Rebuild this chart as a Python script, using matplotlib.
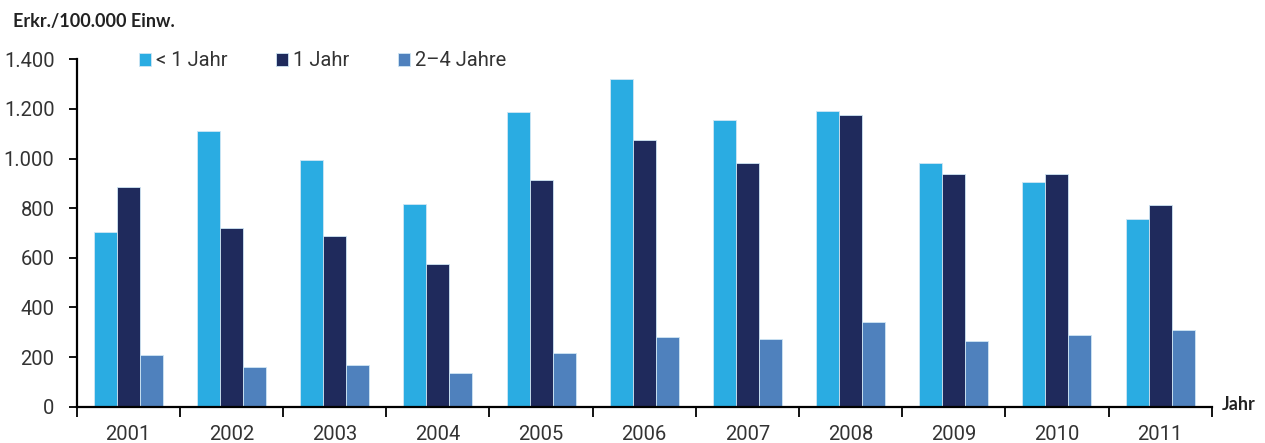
import numpy as np
import matplotlib
matplotlib.use("Agg")
import matplotlib.pyplot as plt
from matplotlib.ticker import FixedLocator, FuncFormatter

# Daten (Erkrankungen je 100.000 Einwohner)
jahre = ["2001", "2002", "2003", "2004", "2005", "2006",
         "2007", "2008", "2009", "2010", "2011"]
unter_1 = [705, 1111, 993, 816, 1188, 1321, 1156, 1193, 981, 906, 755]
ein_jahr = [887, 719, 688, 576, 914, 1075, 981, 1174, 937, 937, 812]
zwei_vier = [208, 160, 168, 136, 215, 281, 273, 340, 264, 288, 310]

serien = ["< 1 Jahr", "1 Jahr", "2\u20134 Jahre"]
farben = ["#2AACE2", "#1F2A5C", "#4F81BD"]

plt.rcParams['font.family'] = ['Roboto', 'DejaVu Sans']
textfarbe = "#333333"
schrift = 14.5

fig = plt.figure(figsize=(12.65, 4.43), dpi=100)
ax = fig.add_axes([76.7 / 1265, 1 - 406.7 / 443, (1211.7 - 76.7) / 1265, (406.7 - 59.3) / 443])

x = np.arange(len(jahre))
breite = 0.223
balken = []
for i, (werte, farbe) in enumerate(zip([unter_1, ein_jahr, zwei_vier], farben)):
    b = ax.bar(x + (i - 1) * breite, werte, breite, color=farbe,
               edgecolor="#cfe6f4", linewidth=0.6, label=serien[i], zorder=2)
    balken.append(b)

ax.set_xlim(-0.5, len(jahre) - 0.5)
ax.set_ylim(0, 1400)

for s in ["top", "right"]:
    ax.spines[s].set_visible(False)
for s in ["left", "bottom"]:
    ax.spines[s].set_linewidth(1.6)
    ax.spines[s].set_color("black")

ax.yaxis.set_major_locator(FixedLocator(np.arange(0, 1401, 200)))
ax.yaxis.set_major_formatter(FuncFormatter(lambda v, p: f"{int(v):,}".replace(",", ".")))
ax.tick_params(axis="y", direction="out", length=6, width=1.3, pad=10,
               labelsize=schrift, labelcolor=textfarbe)

# Gruppengrenzen als Striche, Jahreszahlen mittig
ax.set_xticks(np.arange(-0.5, len(jahre), 1.0))
ax.set_xticklabels([])
ax.set_xticks(x, minor=True)
ax.set_xticklabels(jahre, minor=True)
ax.tick_params(axis="x", which="major", direction="out", length=7, width=1.3)
ax.tick_params(axis="x", which="minor", length=0, pad=13,
               labelsize=schrift, labelcolor=textfarbe)

fig.text(13 / 1265, 1 - 22 / 443, "Erkr./100.000 Einw.", fontsize=13,
         fontweight="bold", family=["Lato", "DejaVu Sans"], color="#222222",
         va="center", ha="left")
fig.text(1222 / 1265, 1 - 405 / 443, "Jahr", fontsize=13,
         fontweight="bold", family=["Lato", "DejaVu Sans"], color="#222222",
         va="center", ha="left")

ax.legend(handles=balken, loc="center left", ncol=3, frameon=False,
          bbox_to_anchor=(139 / 1265, 1 - 61 / 443), bbox_transform=fig.transFigure,
          borderpad=0, borderaxespad=0, handlelength=0.6, handleheight=0.6,
          handletextpad=0.25, columnspacing=2.4, fontsize=schrift, labelcolor=textfarbe)

fig.savefig("out.png", dpi=100)
